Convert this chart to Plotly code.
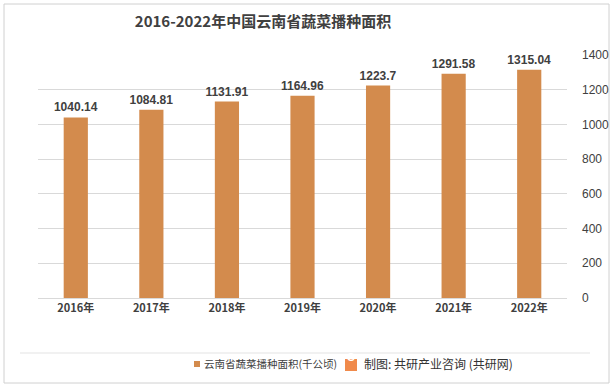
import plotly.graph_objects as go

years = ["2016年", "2017年", "2018年", "2019年", "2020年", "2021年", "2022年"]
values = [1040.14, 1084.81, 1131.91, 1164.96, 1223.7, 1291.58, 1315.04]
labels = ["1040.14", "1084.81", "1131.91", "1164.96", "1223.7", "1291.58", "1315.04"]
y_ticks = [0, 200, 400, 600, 800, 1000, 1200, 1400]
series_name = "云南省蔬菜播种面积(千公顷)"
title_text = "2016-2022年中国云南省蔬菜播种面积"
source_text = "制图: 共研产业咨询 (共研网)"

FONT = "Liberation Sans Narrow, Liberation Sans, Noto Sans CJK SC, sans-serif"
CJK = "Noto Sans CJK SC, sans-serif"
BAR = "#D38B4D"
TXT = "#404040"

fig = go.Figure()
fig.add_trace(go.Bar(
    x=years, y=values, name=series_name,
    marker=dict(color=BAR, line=dict(width=0)),
    text=labels, textposition="outside", cliponaxis=False,
    constraintext="none",
    textfont=dict(family=FONT, size=12, color=TXT, weight="bold"),
    width=0.32, showlegend=False,
))

W, H = 615, 388
L, R, T, B = 38, 48, 55, 90
pw, ph = W - L - R, H - T - B

def px(x):
    return (x - L) / pw

def py(y):
    return (H - B - y) / ph

fig.update_layout(
    width=W, height=H,
    margin=dict(l=L, r=R, t=T, b=B, autoexpand=False),
    paper_bgcolor="white", plot_bgcolor="white",
    font=dict(family=FONT, size=11, color=TXT),
    showlegend=False,
    title=dict(text="<b>" + title_text + "</b>", x=263 / W, xanchor="center",
               y=1 - 22 / H, yanchor="middle",
               font=dict(family=CJK, size=15, color=TXT)),
)
fig.update_xaxes(showgrid=False, showline=True, linecolor="#D9D9D9", ticks="",
                 tickfont=dict(family=CJK, size=11, color=TXT, weight="bold"))
fig.update_yaxes(range=[0, 1400], tickvals=y_ticks, side="right", showgrid=True,
                 gridcolor="#D9D9D9", zeroline=False, ticks="", ticklabelstandoff=14,
                 tickfont=dict(family=FONT, size=12, color=TXT))

# outer border
fig.add_shape(type="rect", xref="paper", yref="paper",
              x0=px(4), x1=px(609), y0=py(383), y1=py(4),
              line=dict(color="#D0D0D0", width=1), fillcolor="rgba(0,0,0,0)", layer="below")
# separator
fig.add_shape(type="line", xref="paper", yref="paper",
              x0=px(20), x1=px(590), y0=py(353), y1=py(353),
              line=dict(color="#E3E3E3", width=1))
# legend marker + text
fig.add_shape(type="rect", xref="paper", yref="paper",
              x0=px(194), x1=px(200), y0=py(367), y1=py(361),
              line=dict(width=0), fillcolor=BAR)
fig.add_annotation(xref="paper", yref="paper", x=px(202), y=py(364), text=series_name,
                   xanchor="left", yanchor="middle", showarrow=False,
                   font=dict(family=CJK, size=10.5, color=TXT))
# logo
fig.add_shape(type="rect", xref="paper", yref="paper",
              x0=px(345), x1=px(357), y0=py(371), y1=py(359),
              line=dict(width=0), fillcolor="#F08A4B")
fig.add_annotation(xref="paper", yref="paper", x=px(351), y=py(365), text="<b>G</b>",
                   showarrow=False, font=dict(family=FONT, size=10, color="white"))
fig.add_annotation(xref="paper", yref="paper", x=px(362), y=py(364), text=source_text,
                   xanchor="left", yanchor="middle", showarrow=False,
                   font=dict(family=CJK, size=12, color="#333333"))

fig.write_html("out.html", config={"displayModeBar": False},
               post_script="document.body.style.margin='0';")
